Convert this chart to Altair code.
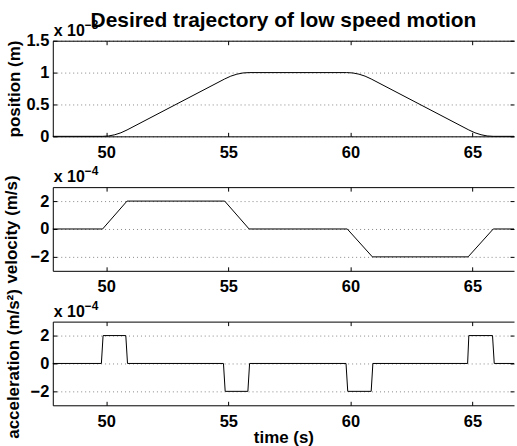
import altair as alt
import pandas as pd

FONT = "Liberation Sans"

# ---- data ----
x_domain = [47.81, 66.70]
x_ticks = [50, 55, 60, 65]

t_pos = [47.81, 49.85, 50.1, 50.35, 50.6, 50.85, 54.85, 55.1, 55.35, 55.6, 55.85,
         59.85, 60.1, 60.35, 60.6, 60.85, 64.85, 65.1, 65.35, 65.6, 65.85, 66.70]
pos = [0, 0, 0.006, 0.025, 0.056, 0.1, 0.9, 0.944, 0.975, 0.994, 1.0,
       1.0, 0.994, 0.975, 0.944, 0.9, 0.1, 0.056, 0.025, 0.006, 0, 0]

t_vel = [47.81, 49.85, 50.85, 54.85, 55.85, 59.87, 60.9, 64.82, 65.85, 66.70]
vel = [0, 0, 2, 2, 0, 0, -2, -2, 0, 0]

t_acc = [47.81, 49.8, 49.87, 50.8, 50.87, 54.8, 54.87, 55.8, 55.87, 59.82, 59.89,
         60.85, 60.92, 64.8, 64.85, 65.82, 65.89, 66.70]
acc = [0, 0, 2, 2, 0, 0, -2, -2, 0, 0, -2, -2, 0, 0, 2, 2, 0, 0]

pos_ticks = [0, 0.5, 1, 1.5]
va_ticks = [-2, 0, 2]

title_text = "Desired trajectory of low speed motion"
y_titles = ["position (m)", "velocity (m/s)", "acceleration (m/s²)"]
x_title = "time (s)"
mult_base = "x 10"
exponents = ["−3", "−4", "−4"]

TICK_FS = 16.5
TITLE_FS = 17


def panel(df, ycol, ydomain, yticks, yfmt, ytitle, height, exp,
          title_x, xtitle=None, title=None):
    width = 463

    def xs():
        return alt.Scale(domain=x_domain, nice=False, zero=False)

    def ys():
        return alt.Scale(domain=ydomain, nice=False, zero=False)

    base = alt.Chart(df)
    lab = dict(labelFont=FONT, labelFontSize=TICK_FS, labelFontWeight="bold",
               labelColor="black")
    x_axis_kw = dict(orient="bottom", values=x_ticks, ticks=False, tickSize=0,
                     domain=True, domainColor="black", domainWidth=1,
                     grid=False, labelPadding=8, format="d", **lab)
    if xtitle:
        x_axis_kw.update(title=xtitle, titleFont=FONT, titleFontSize=TITLE_FS,
                         titleFontWeight="bold", titleColor="black",
                         titlePadding=0)
    else:
        x_axis_kw.update(title=None)

    main = base.mark_line(color="black", strokeWidth=1).encode(
        x=alt.X("t:Q", scale=xs(), axis=alt.Axis(**x_axis_kw)),
        y=alt.Y(f"{ycol}:Q", scale=ys(), axis=alt.Axis(
            orient="left", values=yticks, format=yfmt, ticks=False, tickSize=0,
            domain=True, domainColor="black", domainWidth=1,
            grid=True, gridDash=[1, 3], gridColor="#888", gridWidth=1,
            labelPadding=4, title=ytitle, titleFont=FONT, titleFontSize=TITLE_FS,
            titleFontWeight="bold", titleColor="black", titleAngle=270,
            titleX=title_x, titleY=height / 2, titleAlign="center",
            titleBaseline="middle", **lab)),
    )
    tick_bl = base.mark_line(strokeOpacity=0).encode(
        x=alt.X("t:Q", scale=xs(), axis=alt.Axis(
            orient="bottom", values=x_ticks, labels=False, domain=False,
            grid=False, tickSize=4, offset=-4, tickColor="black", title=None)),
        y=alt.Y(f"{ycol}:Q", scale=ys(), axis=alt.Axis(
            orient="left", values=yticks, labels=False, domain=False,
            grid=False, tickSize=4, offset=-4, tickColor="black", title=None)),
    )
    top_r = base.mark_line(strokeOpacity=0).encode(
        x=alt.X("t:Q", scale=xs(), axis=alt.Axis(
            orient="top", values=x_ticks, labels=False, domain=True,
            domainColor="black", ticks=False, tickSize=0, grid=False,
            title=None)),
        y=alt.Y(f"{ycol}:Q", scale=ys(), axis=alt.Axis(
            orient="right", values=yticks, labels=False, domain=False,
            grid=False, tickSize=4, offset=-4, tickColor="black", title=None)),
    )
    tick_t = base.mark_line(strokeOpacity=0).encode(
        x=alt.X("t:Q", scale=xs(), axis=alt.Axis(
            orient="top", values=x_ticks, labels=False, domain=False,
            grid=False, tickSize=4, offset=-4, tickColor="black", title=None)),
        y=alt.Y(f"{ycol}:Q", scale=ys(), axis=None),
    )
    mult = alt.Chart(pd.DataFrame({"s": [mult_base]})).mark_text(
        font=FONT, fontSize=16, fontWeight="bold", align="left",
        baseline="alphabetic", color="black").encode(
        x=alt.value(1), y=alt.value(-5), text="s:N")
    expo = alt.Chart(pd.DataFrame({"s": [exp]})).mark_text(
        font=FONT, fontSize=12, fontWeight="bold", align="left",
        baseline="alphabetic", color="black").encode(
        x=alt.value(32), y=alt.value(-12), text="s:N")

    layer = alt.layer(main, tick_bl, top_r, tick_t, mult, expo).resolve_scale(
        x="independent", y="independent").resolve_axis(
        x="independent", y="independent")
    props = dict(width=width, height=height)
    if title:
        props["title"] = alt.TitleParams(
            text=title, font=FONT, fontSize=21, fontWeight="bold",
            color="black", anchor="middle", offset=-12)
    return layer.properties(**props)


p1 = panel(pd.DataFrame({"t": t_pos, "v": pos}), "v", [0, 1.5], pos_ticks,
           ".2~f", y_titles[0], 96, exponents[0], -38, title=title_text)
p2 = panel(pd.DataFrame({"t": t_vel, "v": vel}), "v", [-3, 3], va_ticks,
           "d", y_titles[1], 84, exponents[1], -41)
p3 = panel(pd.DataFrame({"t": t_acc, "v": acc}), "v", [-3, 3], va_ticks,
           "d", y_titles[2], 84, exponents[2], -39, xtitle=x_title)

chart = alt.vconcat(p1, p2, p3, spacing=51, bounds="flush").properties(
    padding={"left": 2, "top": 8, "right": 0, "bottom": 0},
    background="white",
).configure_view(stroke="transparent")

chart.save("out.html", embed_options={"renderer": "svg", "actions": False})
